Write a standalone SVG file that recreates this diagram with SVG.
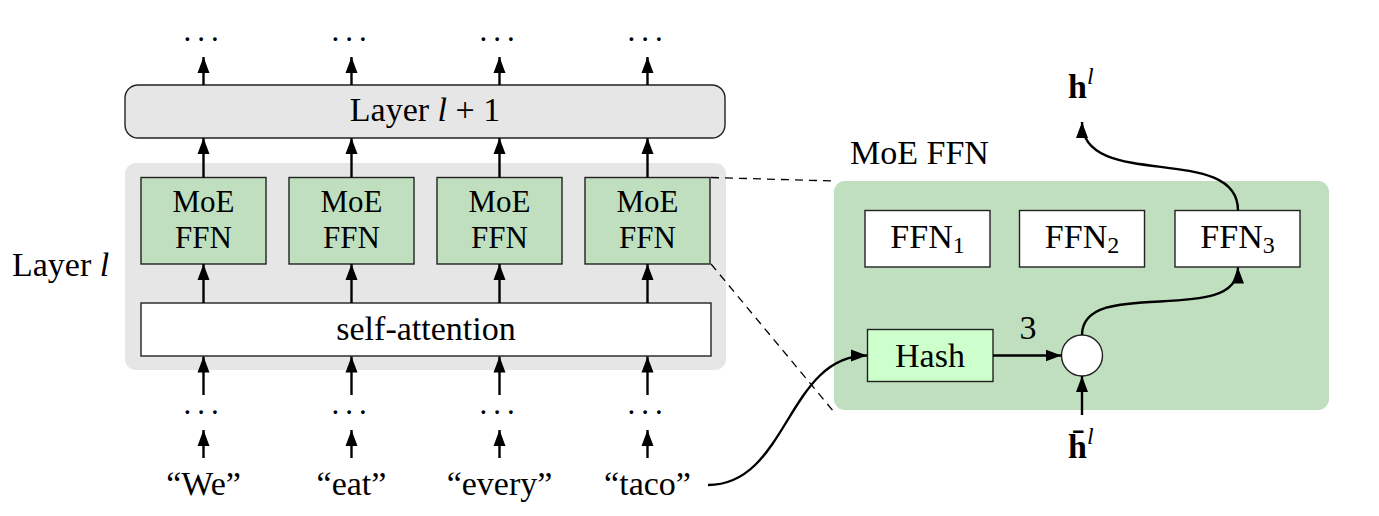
<svg xmlns="http://www.w3.org/2000/svg" width="1379" height="516" viewBox="0 0 1379 516">
<style>
text{font-family:"Liberation Serif","Times New Roman",serif;font-size:34px;fill:#000}
.c{text-anchor:middle}
.sm{font-size:31px}
.dots{letter-spacing:6px;font-size:31px}
.it{font-style:italic}
.box{stroke:#222;stroke-width:1.4}
.moe{fill:#bfdfbf}
.wh{fill:#fff}
.hash{fill:#ccffcc}
.arr{fill:none;stroke:#000;stroke-width:2.4;marker-end:url(#ah)}
.dash{fill:none;stroke:#000;stroke-width:1.3;stroke-dasharray:8 6}
</style>
<defs>
<marker id="ah" markerUnits="userSpaceOnUse" markerWidth="17" markerHeight="13" refX="16" refY="6.5" orient="auto">
<path d="M0,0.5 L16,6.5 L0,12.5 z" fill="#000"/>
</marker>
</defs>
<rect width="1379" height="516" fill="#fff"/>

<g id="layer-l-bg">
<rect x="125" y="163" width="601" height="207" rx="11" fill="#e6e6e6"/>
<text x="12" y="276">Layer <tspan class="it">l</tspan></text>
</g>

<g id="moe-ffn-bg">
<rect x="834" y="181" width="495" height="229" rx="11" fill="#bfdfbf"/>
<text x="850" y="164">MoE FFN</text>
</g>

<g id="layer-l1">
<rect class="box" x="125" y="85" width="600" height="53" rx="13" fill="#e6e6e6"/>
<text class="c" x="425" y="121">Layer <tspan class="it">l</tspan> + 1</text>
</g>

<g id="moe1"><rect class="box moe" x="141" y="177.5" width="125" height="86.5"/><text class="c sm" x="203.5" y="212">MoE</text><text class="c sm" x="203.5" y="248">FFN</text></g>
<g id="moe2"><rect class="box moe" x="289" y="177.5" width="125" height="86.5"/><text class="c sm" x="351.5" y="212">MoE</text><text class="c sm" x="351.5" y="248">FFN</text></g>
<g id="moe3"><rect class="box moe" x="437" y="177.5" width="125" height="86.5"/><text class="c sm" x="499.5" y="212">MoE</text><text class="c sm" x="499.5" y="248">FFN</text></g>
<g id="moe4"><rect class="box moe" x="585" y="177.5" width="125" height="86.5"/><text class="c sm" x="647.5" y="212">MoE</text><text class="c sm" x="647.5" y="248">FFN</text></g>

<g id="self-attention"><rect class="box wh" x="141" y="303" width="570" height="53"/><text class="c" x="426" y="340">self-attention</text></g>

<g id="top-dots">
<text class="dots" x="183.5" y="41">...</text>
<text class="dots" x="331.5" y="41">...</text>
<text class="dots" x="479.5" y="41">...</text>
<text class="dots" x="627.5" y="41">...</text>
</g>
<g id="bottom-dots">
<text class="dots" x="183.5" y="414">...</text>
<text class="dots" x="331.5" y="414">...</text>
<text class="dots" x="479.5" y="414">...</text>
<text class="dots" x="627.5" y="414">...</text>
</g>
<g id="words">
<text class="c" x="203.5" y="495">“We”</text>
<text class="c" x="351.5" y="495">“eat”</text>
<text class="c" x="499.5" y="495">“every”</text>
<text class="c" x="647.5" y="495">“taco”</text>
</g>

<g id="ffn1"><rect class="box wh" x="865" y="210.5" width="125" height="56.5"/><text class="c" x="927.5" y="248">FFN<tspan font-size="24" dy="5">1</tspan></text></g>
<g id="ffn2"><rect class="box wh" x="1019.5" y="210.5" width="125" height="56.5"/><text class="c" x="1082" y="248">FFN<tspan font-size="24" dy="5">2</tspan></text></g>
<g id="ffn3"><rect class="box wh" x="1175" y="210.5" width="125" height="56.5"/><text class="c" x="1237.5" y="248">FFN<tspan font-size="24" dy="5">3</tspan></text></g>

<g id="hash"><rect class="box hash" x="867.5" y="329.5" width="125.5" height="52"/><text class="c" x="930" y="367">Hash</text></g>

<g id="router"><circle cx="1082" cy="355.5" r="20.5" fill="#fff" stroke="#222" stroke-width="1.4"/></g>

<g id="labels">
<text class="c" x="1028" y="339">3</text>
<text x="1068" y="98"><tspan font-weight="bold">h</tspan><tspan class="it" font-size="24" dy="-14">l</tspan></text>
<text x="1068" y="458"><tspan font-weight="bold">h̄</tspan><tspan class="it" font-size="24" dy="-14">l</tspan></text>
</g>

<g id="connectors">
<path class="arr" d="M203.5,85 V57"/>
<path class="arr" d="M351.5,85 V57"/>
<path class="arr" d="M499.5,85 V57"/>
<path class="arr" d="M647.5,85 V57"/>
<path class="arr" d="M203.5,177.5 V138"/>
<path class="arr" d="M351.5,177.5 V138"/>
<path class="arr" d="M499.5,177.5 V138"/>
<path class="arr" d="M647.5,177.5 V138"/>
<path class="arr" d="M203.5,303 V264"/>
<path class="arr" d="M351.5,303 V264"/>
<path class="arr" d="M499.5,303 V264"/>
<path class="arr" d="M647.5,303 V264"/>
<path class="arr" d="M203.5,395 V356.5"/>
<path class="arr" d="M351.5,395 V356.5"/>
<path class="arr" d="M499.5,395 V356.5"/>
<path class="arr" d="M647.5,395 V356.5"/>
<path class="arr" d="M203.5,458 V430"/>
<path class="arr" d="M351.5,458 V430"/>
<path class="arr" d="M499.5,458 V430"/>
<path class="arr" d="M647.5,458 V430"/>
<path class="arr" d="M708,485 C788,485 787,355.5 867,355.5"/>
<path class="arr" d="M993,355.5 H1061.5"/>
<path class="arr" d="M1082,415 V376"/>
<path class="arr" d="M1082,335 C1082,275 1238,328 1238,267.5"/>
<path class="arr" d="M1238,210.5 C1238,142 1082,192 1082,122"/>
<path class="dash" d="M711,177.5 L834,181"/>
<path class="dash" d="M711,264 L834,412"/>
</g>
</svg>
